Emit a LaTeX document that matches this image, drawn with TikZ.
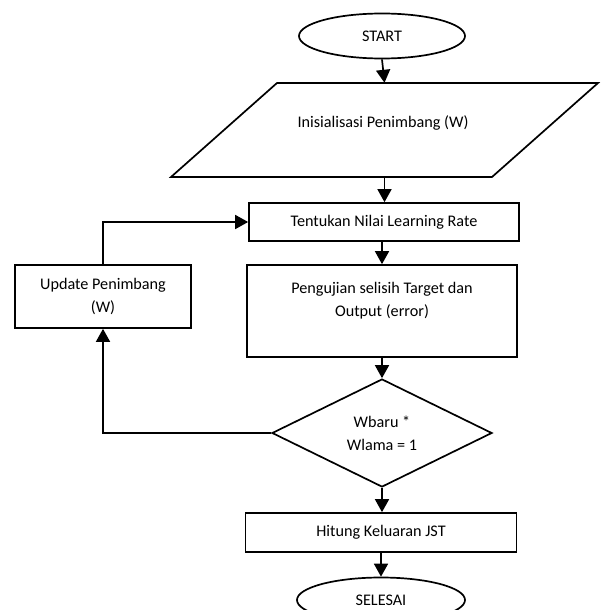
\documentclass[tikz,border=0pt]{standalone}
\usepackage{fontspec}
\setmainfont{Carlito}
\usetikzlibrary{shapes.geometric,arrows.meta,calc}
\begin{document}
\begin{tikzpicture}[x=1pt,y=-1pt,
  every node/.style={font=\fontsize{16.2}{23}\selectfont, align=center, inner sep=0pt},
  ln/.style={line width=1.7pt},
  arr/.style={ln,-{Triangle[length=13pt,width=14pt]}},
  boxnode/.style={draw, ln, rectangle, fill=white},
  terminal/.style={draw, ln, ellipse, fill=white, minimum width=166pt, minimum height=45pt},
  decision/.style={draw, ln, diamond, fill=white, minimum width=220pt, minimum height=108pt}
]
\useasboundingbox (0,0) rectangle (600,610);
\fill[white] (0,0) rectangle (600,610);
\clip (0,0) rectangle (600,610);

% nodes
\node[terminal] (start) at (382,36) {START};
\node[minimum width=220pt, minimum height=94pt] (init) at (384.5,130) {};
\draw[ln, line join=miter] (171,177) -- (277,83) -- (598,83) -- (492,177) -- cycle;
\node (inittxt) at (383,123) {Inisialisasi Penimbang (W)};
\node[boxnode, minimum width=270pt, minimum height=38pt] (lr) at (384,222) {Tentukan Nilai Learning Rate};
\node[boxnode, minimum width=270pt, minimum height=92pt] (uji) at (382,311) {Pengujian selisih Target dan\\Output (error)\\ };
\node[boxnode, minimum width=176pt, minimum height=63pt] (upd) at (103,296.5) {Update Penimbang\\(W)};
\node[decision] (dec) at (382,433) {Wbaru *\\Wlama = 1};
\node[boxnode, minimum width=271pt, minimum height=39pt] (out) at (381,532.5) {Hitung Keluaran JST};
\node[terminal, minimum width=168pt] (end) at (381,600) {SELESAI};

% connectors
\draw[arr] (start.south) -- (init.north);
\draw[arr] (init.south) -- (init.south |- lr.north);
\draw[arr] (lr.south -| uji.north) -- (uji.north);
\draw[arr] (uji.south) -- (dec.north);
\draw[arr] (dec.south) -- (dec.south |- out.north);
\draw[arr] (out.south) -- (out.south |- end.north);
\draw[arr] (dec.west) -- (dec.west -| upd.south) -- (upd.south);
\draw[arr] (upd.north) -- (upd.north |- lr.west) -- (lr.west);
\end{tikzpicture}
\end{document}
